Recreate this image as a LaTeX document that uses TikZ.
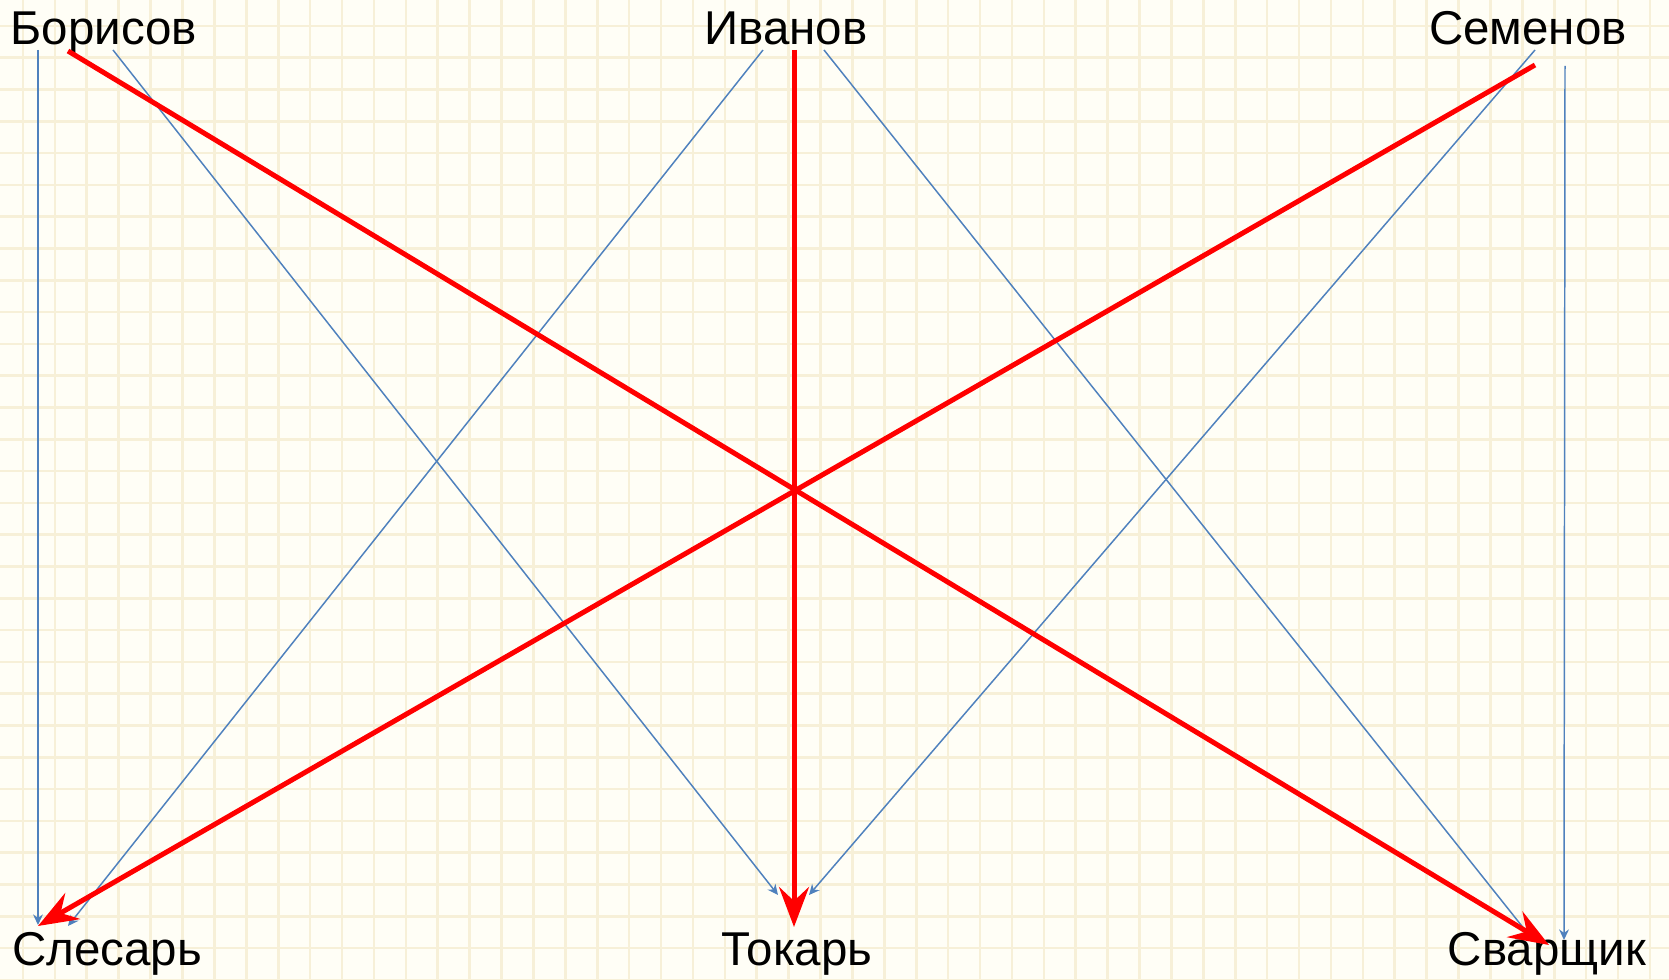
\documentclass[tikz,border=0pt]{standalone}
\usepackage{fontspec}
\setmainfont{Liberation Sans}
\usetikzlibrary{arrows.meta, calc}
\definecolor{paper} {RGB}{255,254,246}
\definecolor{gline} {RGB}{247,240,216}
\definecolor{oblue} {RGB}{ 79,129,189}
\definecolor{pred}  {RGB}{255,  0,  0}
\tikzset{
  % Name label
  NM/.style={anchor=base,inner sep=0pt,font=\fontsize{13.5}{15}\selectfont},
  % Grid line of the paper
  GL/.style={line width=0.026cm,color=gline},
  % Thin blue arrow
  BArr/.style={-{Stealth[length=3pt,width=2.8pt]},line width=0.42pt,color=oblue},
  % Thick red arrow
  RArr/.style={-{Stealth[length=0.4cm,width=0.3cm,inset=0.14cm]},
               line width=0.05cm,color=pred},
}
\begin{document}
\begin{tikzpicture}[x=0.01cm,y=-0.01cm]
        % Squared paper
        \fill[paper] (0,0) rectangle (1669,980);
        \useasboundingbox (0,0) rectangle (1669,980);
        \foreach \i in {0,...,51}
          \draw[GL] ({23+31.9*\i},0) -- ++(0,980);
        \foreach \j in {0,...,30}
          \draw[GL] (0,{26+31.8*\j}) -- ++(1669,0);
        % People
        \node[NM] at (104,45)  (bor) {Борисов};
        \node[NM] at (786,45)  (iva) {Иванов};
        \node[NM] at (1528,45) (sem) {Семенов};
        % Trades
        \node[NM] at (107,966)  (sle) {Слесарь};
        \node[NM] at (797,966)  (tok) {Токарь};
        \node[NM] at (1547,966) (sva) {Сварщик};
        % All possibilities
        \draw[BArr] ($(bor.base)+(-66,5)$)  -- ($(sle.base)+(-69,-41)$);
        \draw[BArr] ($(bor.base)+(9,5)$)    -- ($(tok.base)+(-19,-71)$);
        \draw[BArr] ($(iva.base)+(-23,5)$)  -- ($(sle.base)+(-39,-40)$);
        \draw[BArr] ($(iva.base)+(38,5)$)   -- ($(sva.base)+(-14,-26)$);
        \draw[BArr] ($(sem.base)+(7,5)$)    -- ($(tok.base)+(12,-71)$);
        \draw[BArr] ($(sem.base)+(37,21)$)  -- ($(sva.base)+(17,-26)$);
        % Solution
        \draw[RArr] ($(bor.base)+(-36,6)$)  -- ($(sva.base)+(2,-21)$);
        \draw[RArr] ($(iva.base)+(8,5)$)    -- ($(tok.base)+(-3,-39)$);
        \draw[RArr] ($(sem.base)+(7,20)$)   -- ($(sle.base)+(-69,-40)$);
\end{tikzpicture}
\end{document}
